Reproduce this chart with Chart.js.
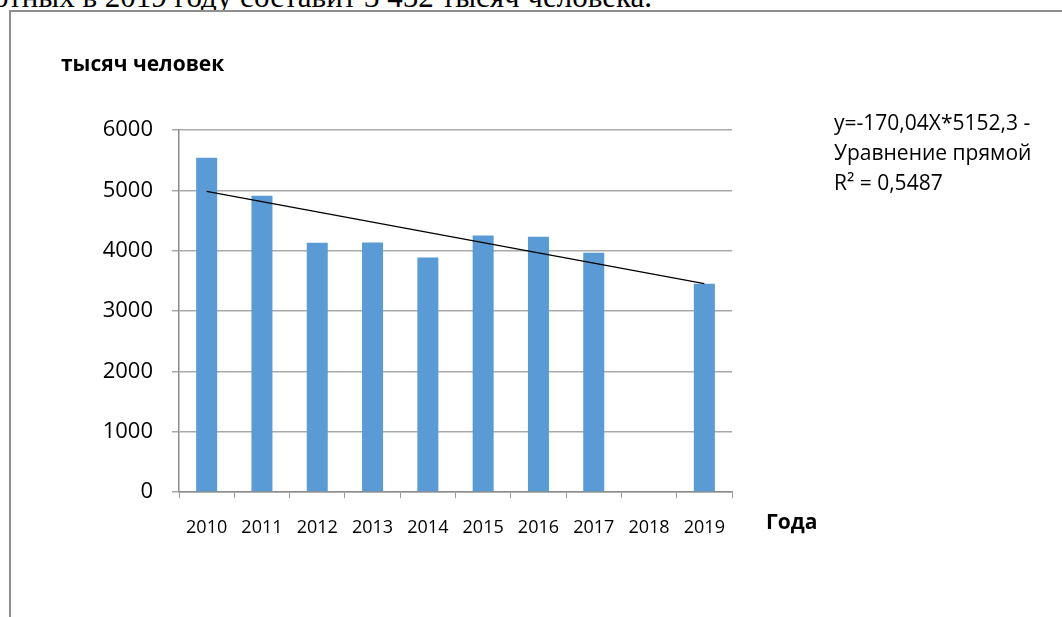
<!DOCTYPE html>
<html lang="ru">
<head>
  <meta charset="UTF-8" />
  <title>Безработные, тысяч человек</title>
  <script src="https://cdn.jsdelivr.net/npm/chart.js"></script>
  <style>
    body { margin: 0; background: #fff; overflow: hidden; }
    .page { position: relative; width: 1062px; height: 617px; overflow: hidden; }
    .topline {
      position: absolute; right: 410px; top: -19px; white-space: nowrap; line-height: 1;
      font-family: "Liberation Serif", serif; font-size: 31px; color: #000;
    }
    .frame {
      position: absolute; left: 9px; top: 10px; right: -2px; bottom: -2px;
      border-left: 2px solid #8f8f8f; border-top: 2px solid #8f8f8f; background: #fff;
    }
    .lbl { position: absolute; font-family: "Open Sans", "Noto Sans", sans-serif; color: #000; white-space: nowrap; }
    .ytitle { left: 61px; top: 53px; font-size: 21px; font-weight: bold; line-height: 1; }
    .xtitle { left: 766px; top: 511px; font-size: 21px; font-weight: bold; line-height: 1; }
    .note { left: 834px; top: 107px; font-size: 21px; line-height: 30px; }
    .chart-box { position: absolute; left: 0; top: 0; width: 1062px; height: 617px; }
  </style>
</head>
<body>
<div class="page">
  <div class="topline">безработных в 2019 году составит 3 452 тысяч человека.</div>
  <div class="frame"></div>
  <div class="chart-box"><canvas id="chart"></canvas></div>
  <div class="lbl ytitle">тысяч человек</div>
  <div class="lbl xtitle">Года</div>
  <div class="lbl note">y=-170,04X*5152,3 -<br>Уравнение прямой<br>R² = 0,5487</div>
</div>

<script>
  const years = ["2010", "2011", "2012", "2013", "2014", "2015", "2016", "2017", "2018", "2019"];
  const unemployed = [5540, 4910, 4130, 4135, 3885, 4250, 4230, 3965, null, 3452];
  const trend = [4982, null, null, null, null, null, null, null, null, 3452];
  const yTicks = [0, 1000, 2000, 3000, 4000, 5000, 6000];

  new Chart(document.getElementById("chart"), {
    type: "bar",
    data: {
      labels: years,
      datasets: [
        {
          type: "line",
          data: trend,
          borderColor: "#000",
          borderWidth: 1.3,
          pointRadius: 0,
          spanGaps: true,
          fill: false,
          order: 0
        },
        {
          data: unemployed,
          backgroundColor: "#5B9BD5",
          categoryPercentage: 0.76,
          barPercentage: 0.5,
          order: 1
        }
      ]
    },
    options: {
      responsive: true,
      maintainAspectRatio: false,
      animation: false,
      layout: { padding: { left: 0, right: 330, top: 130, bottom: 0 } },
      plugins: { legend: { display: false }, tooltip: { enabled: false } },
      scales: {
        x: {
          afterFit: (s) => { s.height = 125; },
          grid: {
            drawOnChartArea: false, drawTicks: true, tickLength: 6,
            color: "#9a9a9a", offset: true
          },
          border: { color: "#8c8c8c", width: 1.5 },
          ticks: {
            color: "#000", padding: 19, maxRotation: 0,
            font: { family: "Open Sans", size: 18 }
          }
        },
        y: {
          min: 0, max: 6000,
          afterFit: (s) => { s.width = 179; },
          afterBuildTicks: (s) => { s.ticks = yTicks.map(v => ({ value: v })); },
          grid: { color: "#aaaaaa", lineWidth: 1.5, tickLength: 7 },
          border: { color: "#8c8c8c", width: 1.5 },
          ticks: {
            color: "#000", padding: 19,
            callback: (v) => String(v),
            font: { family: "Open Sans", size: 22 }
          }
        }
      }
    }
  });
</script>
</body>
</html>
